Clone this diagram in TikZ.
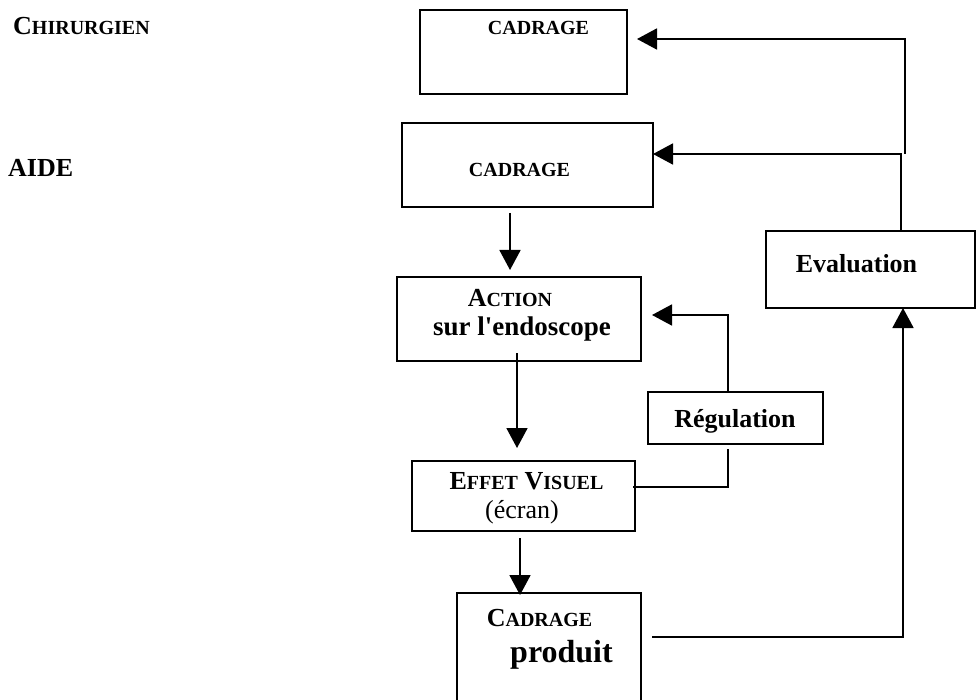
\documentclass[tikz,border=0pt]{standalone}
\usepackage{fontspec}
\setmainfont{Liberation Serif}
\newfontfamily\rawserif{Liberation Serif}
\usetikzlibrary{arrows.meta,calc}
\newcommand\bigsc[1]{{\fontsize{26pt}{30pt}\selectfont #1}}
\newcommand\smsc[1]{{\fontsize{20pt}{24pt}\selectfont #1}}
\begin{document}
\begin{tikzpicture}[x=1pt,y=-1pt,
 box/.style={draw, line width=1.8pt, rectangle, inner sep=0pt, outer sep=0pt},
 lbl/.style={anchor=base, inner sep=0pt, font=\bfseries\fontsize{26pt}{30pt}\selectfont},
 conn/.style={line width=1.8pt},
 arr/.style={conn, -{Triangle[length=20pt,width=21pt]}},
]
\useasboundingbox (0,0) rectangle (976,700);

% boxes
\node[box, minimum width=207pt, minimum height=84pt] (cad1) at (523.5,52) {};
\node[box, minimum width=251pt, minimum height=84pt] (cad2) at (527.5,165) {};
\node[box, minimum width=244pt, minimum height=84pt] (action) at (519,319) {};
\node[box, minimum width=175pt, minimum height=52pt] (reg) at (735.5,418) {};
\node[box, minimum width=223pt, minimum height=70pt] (effet) at (523.5,496) {};
\node[box, minimum width=184pt, minimum height=119pt] (prod) at (549,652.5) {};
\node[box, minimum width=209pt, minimum height=77pt] (eval) at (870.5,269.5) {};

% texts
\node[lbl, anchor=base west] (chir) at (13,35) {\bigsc{C}\smsc{HIRURGIEN}};
\node[lbl, anchor=base west] (aide) at (8,177) {AIDE};
\node[lbl] (cad1t) at (538.5,35) {\smsc{CADRAGE}};
\node[lbl] (cad2t) at (519.5,177) {\smsc{CADRAGE}};
\node[lbl] (actt1) at (510,306) {\bigsc{A}\smsc{CTION}};
\node[lbl, font=\bfseries\fontsize{27pt}{30pt}\selectfont] (actt2) at (522,335) {sur l{\rawserif\bfseries '}endoscope};
\node[lbl] (regt) at (735,427) {Régulation};
\node[lbl] (efft1) at (526.5,489) {\bigsc{E}\smsc{FFET} \bigsc{V}\smsc{ISUEL}};
\node[lbl, font=\fontsize{26pt}{30pt}\selectfont] (efft2) at (522,518) {(écran)};
\node[lbl] (prodt1) at (539.5,626) {\bigsc{C}\smsc{ADRAGE}};
\node[lbl, font=\bfseries\fontsize{32pt}{36pt}\selectfont] (prodt2) at (561.5,662) {produit};
\node[lbl] (evalt) at (856.5,273) {Evaluation};

% connectors
\draw[arr] ($(cad2.south)+(-17.5,6)$) -- ($(action.north)+(-9,-7)$);
\draw[arr] ($(action.south)+(-2,-8)$) -- ($(effet.north)+(-6.5,-13)$);
\draw[arr] ($(effet.south)+(-3.5,7)$) -- ($(prod.north)+(-29,2)$);
\draw[arr] ($(reg.north)+(-7.5,0)$) |- ($(action.east)+(11,-4)$);
\draw[conn] ($(effet.east)+(-2,-9)$) -| ($(reg.south)+(-7.5,5)$);
\draw[arr] ($(prod.east)+(11,-15.5)$) -| ($(eval.south)+(32.5,0)$);
\draw[arr] ($(eval.north)+(30.5,0)$) |- ($(cad2.east)+(0,-11)$);
\coordinate (j1) at (905,154);
\draw[arr] (j1) |- ($(cad1.east)+(10,-13)$);
\end{tikzpicture}
\end{document}
